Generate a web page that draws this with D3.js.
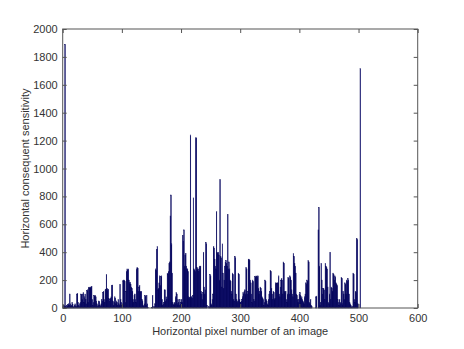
<!DOCTYPE html>
<html><head><meta charset="utf-8">
<script src="https://cdn.jsdelivr.net/npm/d3@7"></script>
<style>html,body{margin:0;padding:0;background:#fff;}svg{display:block;}</style>
</head><body>
<script>
// Horizontal pixel number (1..504) -> sensitivity value
const sensitivity = [
15,20,10,1890,12,8,20,15,25,30,
20,100,30,15,20,40,25,10,5,20,
30,15,10,100,105,40,20,10,30,40,
100,95,60,100,110,40,80,100,60,30,
125,130,40,145,150,140,150,150,155,60,
20,40,90,85,90,80,50,30,10,20,
50,45,20,10,30,60,50,110,120,60,
40,130,135,240,140,130,135,70,50,60,
70,80,160,165,50,20,40,80,70,30,
50,40,20,60,30,20,170,60,40,20,
30,195,200,200,190,40,120,260,280,270,
280,200,180,185,170,150,140,120,60,40,
90,100,60,40,280,290,285,120,150,160,
120,115,120,60,50,20,10,30,90,85,
20,90,30,5,0,0,0,0,0,0,
5,90,10,0,10,30,280,270,420,440,
130,140,180,230,160,225,230,60,20,30,
40,130,130,50,80,60,250,240,260,320,
330,660,810,460,250,40,30,20,40,30,
80,110,100,30,60,40,20,60,30,40,
60,40,520,480,560,300,380,390,300,280,
280,260,80,70,75,1240,80,80,70,90,
790,280,270,260,1220,1220,290,280,280,260,
290,300,300,120,100,60,110,400,150,100,
130,470,460,20,0,0,10,5,240,230,
30,20,60,100,440,430,350,300,280,690,
400,390,400,380,200,920,370,360,150,460,
250,140,200,300,330,340,320,300,670,280,
330,280,200,190,120,100,250,240,60,50,
370,360,100,60,40,50,250,240,60,40,
40,50,60,80,110,100,120,130,100,290,
280,100,120,350,350,340,200,180,100,40,
200,190,60,50,225,220,230,225,220,230,
140,100,120,150,140,120,80,70,60,20,
40,200,190,60,50,30,20,60,100,120,
270,260,140,100,60,120,110,60,70,180,
180,175,180,180,230,100,80,150,200,210,
200,100,330,320,120,110,120,60,40,100,
220,210,100,230,220,200,130,100,80,390,
370,320,300,250,100,90,60,40,60,100,
110,90,70,80,60,50,40,30,80,100,
180,170,200,190,340,330,40,30,60,20,
10,0,0,0,0,0,0,80,85,0,
0,560,720,300,20,40,320,200,100,140,
140,130,60,320,300,290,280,150,40,30,
100,400,60,150,140,120,250,240,200,230,
220,180,170,160,60,40,20,60,40,30,
220,210,30,120,100,60,180,170,100,200,
190,210,200,100,40,30,20,10,5,10,
250,240,60,40,120,110,500,490,30,0,
0,0,1715,0
];
const pixelNumbers = d3.range(1, sensitivity.length + 1);
const xTicks = [0,100,200,300,400,500,600];
const yTicks = [0,200,400,600,800,1000,1200,1400,1600,1800,2000];
const xLabel = "Horizontal pixel number of an image";
const yLabel = "Horizontal consequent sensitivity";

const W = 464, H = 349;
const m = {left: 62.7, right: 417.7, top: 29, bottom: 308};
const svg = d3.select("body").append("svg").attr("width", W).attr("height", H);

const x = d3.scaleLinear().domain([0,600]).range([m.left, m.right]);
const y = d3.scaleLinear().domain([0,2000]).range([m.bottom, m.top]);

const data = pixelNumbers.map((p,i)=>({p, v: sensitivity[i]}));

svg.append("g").selectAll("rect").data(data).join("rect")
  .attr("x", d => x(d.p - 0.5))
  .attr("width", d => x(d.p + 0.5) - x(d.p - 0.5))
  .attr("y", d => y(d.v))
  .attr("height", d => y(0) - y(d.v))
  .attr("fill", "#00007a")
  .attr("stroke", "#000050")
  .attr("stroke-width", 0.45);

const axisColor = "#555";
const font = "'Liberation Sans', Arial, sans-serif";

// frame
svg.append("rect").attr("x", m.left).attr("y", m.top)
  .attr("width", m.right - m.left).attr("height", m.bottom - m.top)
  .attr("fill", "none").attr("stroke", axisColor).attr("stroke-width", 1);

const tl = 4;
const fmt = d3.format("d");
const gx = svg.append("g").attr("transform", `translate(0,${m.bottom})`)
  .call(d3.axisBottom(x).tickValues(xTicks).tickFormat(fmt).tickSizeInner(-tl).tickSizeOuter(0).tickPadding(6));
const gxt = svg.append("g").attr("transform", `translate(0,${m.top})`)
  .call(d3.axisTop(x).tickValues(xTicks).tickSizeInner(-tl).tickSizeOuter(0).tickFormat(""));
const gy = svg.append("g").attr("transform", `translate(${m.left},0)`)
  .call(d3.axisLeft(y).tickValues(yTicks).tickFormat(fmt).tickSizeInner(-tl).tickSizeOuter(0).tickPadding(5));
const gyr = svg.append("g").attr("transform", `translate(${m.right},0)`)
  .call(d3.axisRight(y).tickValues(yTicks).tickSizeInner(-tl).tickSizeOuter(0).tickFormat(""));

[gx,gxt,gy,gyr].forEach(g => {
  g.select(".domain").remove();
  g.selectAll("line").attr("stroke", axisColor);
  g.selectAll("text").attr("fill", "#333").style("font-family", font).style("font-size", "11px");
});

svg.append("text").attr("x", (m.left + m.right)/2).attr("y", 335)
  .attr("text-anchor", "middle").attr("fill", "#333")
  .style("font-family", font).style("font-size", "11px").text(xLabel);

svg.append("text").attr("transform", `translate(29,${(m.top+m.bottom)/2}) rotate(-90)`)
  .attr("text-anchor", "middle").attr("fill", "#333")
  .style("font-family", font).style("font-size", "11px").text(yLabel);
</script>
</body></html>
